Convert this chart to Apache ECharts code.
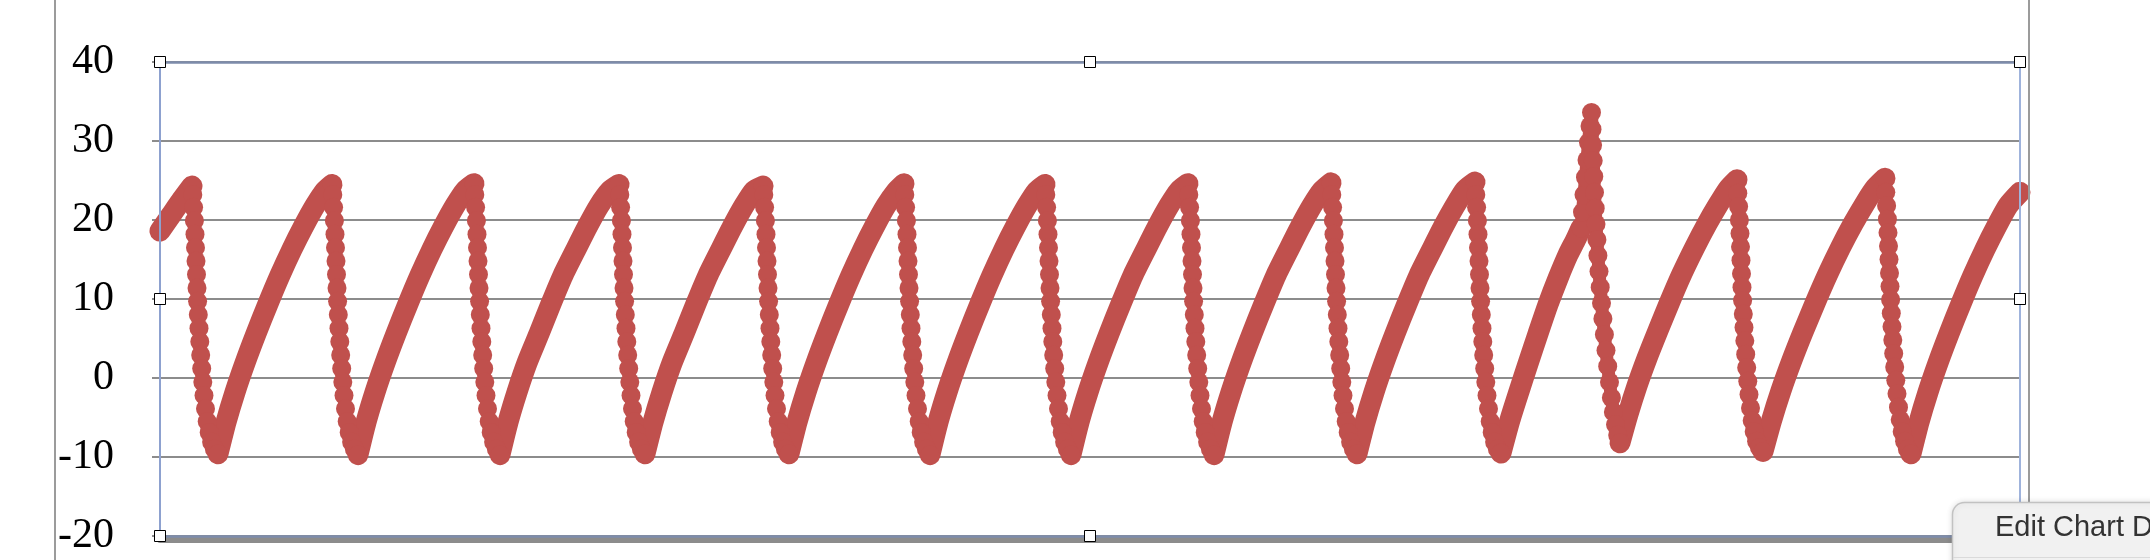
<!DOCTYPE html>
<html><head><meta charset="utf-8">
<script src="https://cdn.jsdelivr.net/npm/echarts@6/dist/echarts.min.js"></script>
<style>html,body{margin:0;padding:0;background:#fff;}#chart{width:2150px;height:560px;}</style>
</head><body><div id="chart"></div>
<script>
// ---- data: [time, value] ----
const yTickMin = -20, yTickMax = 40, yTickStep = 10;
const timeMax = 1860;

const leadIn = [[0,18.6],[11,20.6],[22,22.6]];
const beat01 = [[32,24.3],[32.8,23.2],[33.6,21.6],[34.4,19.9],[35,18.2],[35.5,16.5],[36,14.8],[36.5,13.1],[37,11.4],[37.6,9.7],[38.3,8.0],[39,6.3],[39.8,4.6],[40.7,2.9],[41.7,1.2],[42.8,-0.5],[44,-2.2],[45.5,-3.9],[47.2,-5.5],[49.2,-6.9],[51.6,-8.1],[54.4,-9.0],[58,-9.6],
  [66,-5.6],[75,-1.8],[85,1.9],[96,5.6],[108,9.4],[120,13.0],[132,16.3],[144,19.3],[155,21.8],[165,23.7]];
const beat02 = [[172,24.5],[172.8,23.2],[173.6,21.6],[174.4,19.9],[175,18.2],[175.5,16.5],[176,14.8],[176.5,13.1],[177,11.4],[177.6,9.7],[178.3,8.0],[179,6.3],[179.8,4.6],[180.7,2.9],[181.7,1.2],[182.8,-0.5],[184,-2.2],[185.5,-3.9],[187.2,-5.5],[189.2,-6.9],[191.6,-8.1],[194.4,-9.0],[198,-9.7],
  [206,-5.6],[215,-1.8],[225,1.9],[236,5.6],[248,9.4],[260,13.0],[272,16.3],[284,19.3],[295,21.8],[305,23.7]];
const beat03 = [[314,24.6],[314.8,23.2],[315.6,21.6],[316.4,19.9],[317,18.2],[317.5,16.5],[318,14.8],[318.5,13.1],[319,11.4],[319.6,9.7],[320.3,8.0],[321,6.3],[321.8,4.6],[322.7,2.9],[323.7,1.2],[324.8,-0.5],[326,-2.2],[327.5,-3.9],[329.2,-5.5],[331.2,-6.9],[333.6,-8.1],[336.4,-9.0],[340,-9.7],
  [348,-5.6],[357,-1.8],[367,1.9],[379,5.6],[391,9.4],[403,13.0],[416,16.3],[428,19.3],[439,21.8],[450,23.7]];
const beat04 = [[459,24.5],[459.8,23.2],[460.6,21.6],[461.4,19.9],[462,18.2],[462.5,16.5],[463,14.8],[463.5,13.1],[464,11.4],[464.6,9.7],[465.3,8.0],[466,6.3],[466.8,4.6],[467.7,2.9],[468.7,1.2],[469.8,-0.5],[471,-2.2],[472.5,-3.9],[474.2,-5.5],[476.2,-6.9],[478.6,-8.1],[481.4,-9.0],[485,-9.6],
  [493,-5.6],[502,-1.8],[512,1.9],[524,5.6],[536,9.4],[548,13.0],[561,16.3],[573,19.3],[584,21.8],[594,23.7]];
const beat05 = [[603,24.3],[603.8,23.2],[604.6,21.6],[605.4,19.9],[606,18.2],[606.5,16.5],[607,14.8],[607.5,13.1],[608,11.4],[608.6,9.7],[609.3,8.0],[610,6.3],[610.8,4.6],[611.7,2.9],[612.7,1.2],[613.8,-0.5],[615,-2.2],[616.5,-3.9],[618.2,-5.5],[620.2,-6.9],[622.6,-8.1],[625.4,-9.0],[629,-9.6],
  [637,-5.6],[646,-1.8],[656,1.9],[667,5.6],[679,9.4],[691,13.0],[703,16.3],[715,19.3],[726,21.8],[736,23.6]];
const beat06 = [[744,24.6],[744.8,23.2],[745.6,21.6],[746.4,19.9],[747,18.2],[747.5,16.5],[748,14.8],[748.5,13.1],[749,11.4],[749.6,9.7],[750.3,8.0],[751,6.3],[751.8,4.6],[752.7,2.9],[753.7,1.2],[754.8,-0.5],[756,-2.2],[757.5,-3.9],[759.2,-5.5],[761.2,-6.9],[763.6,-8.1],[766.4,-9.0],[770,-9.7],
  [778,-5.6],[787,-1.8],[797,1.9],[808,5.6],[820,9.4],[832,13.0],[844,16.3],[856,19.3],[867,21.8],[877,23.7]];
const beat07 = [[885,24.5],[885.8,23.2],[886.6,21.6],[887.4,19.9],[888,18.2],[888.5,16.5],[889,14.8],[889.5,13.1],[890,11.4],[890.6,9.7],[891.3,8.0],[892,6.3],[892.8,4.6],[893.7,2.9],[894.7,1.2],[895.8,-0.5],[897,-2.2],[898.5,-3.9],[900.2,-5.5],[902.2,-6.9],[904.6,-8.1],[907.4,-9.0],[911,-9.7],
  [919,-5.6],[928,-1.8],[938,1.9],[949,5.6],[961,9.4],[973,13.0],[986,16.3],[998,19.3],[1009,21.8],[1019,23.7]];
const beat08 = [[1028,24.6],[1028.8,23.2],[1029.6,21.6],[1030.4,19.9],[1031,18.2],[1031.5,16.5],[1032,14.8],[1032.5,13.1],[1033,11.4],[1033.6,9.7],[1034.3,8.0],[1035,6.3],[1035.8,4.6],[1036.7,2.9],[1037.7,1.2],[1038.8,-0.5],[1040,-2.2],[1041.5,-3.9],[1043.2,-5.5],[1045.2,-6.9],[1047.6,-8.1],[1050.4,-9.0],[1054,-9.7],
  [1062,-5.6],[1071,-1.8],[1081,1.9],[1092,5.6],[1104,9.4],[1116,13.0],[1129,16.3],[1141,19.3],[1152,21.8],[1162,23.7]];
const beat09 = [[1171,24.7],[1171.8,23.2],[1172.6,21.6],[1173.4,19.9],[1174,18.2],[1174.5,16.5],[1175,14.8],[1175.5,13.1],[1176,11.4],[1176.6,9.7],[1177.3,8.0],[1178,6.3],[1178.8,4.6],[1179.7,2.9],[1180.7,1.2],[1181.8,-0.5],[1183,-2.2],[1184.5,-3.9],[1186.2,-5.5],[1188.2,-6.9],[1190.6,-8.1],[1193.4,-9.0],[1197,-9.6],
  [1205,-5.6],[1214,-1.8],[1224,1.9],[1235,5.6],[1247,9.4],[1259,13.0],[1272,16.3],[1284,19.3],[1295,21.8],[1305,23.8]];
const beat10 = [[1315,24.8],[1315.8,23.2],[1316.6,21.6],[1317.4,19.9],[1318,18.2],[1318.5,16.5],[1319,14.8],[1319.5,13.1],[1320,11.4],[1320.6,9.7],[1321.3,8.0],[1322,6.3],[1322.8,4.6],[1323.7,2.9],[1324.7,1.2],[1325.8,-0.5],[1327,-2.2],[1328.5,-3.9],[1330.2,-5.5],[1332.2,-6.9],[1334.6,-8.1],[1337.4,-9.0],[1341,-9.5],
  [1350,-5.3],[1359,-1.7],[1368,1.8],[1378,5.6],[1388,9.3],[1398,12.6],[1408,15.6],[1416,17.6],[1421,19.0]];
const beat11 = [[1422.5,21.0],[1424,23.2],[1425.5,25.4],[1427,27.6],[1428.5,29.8],[1430,31.9],[1431.5,33.6],
  [1432,31.5],[1432.6,29.5],[1433.2,27.5],[1433.8,25.5],[1434.5,23.5],[1435.2,21.5],[1436,19.5],[1436.9,17.5],[1437.9,15.5],[1439,13.5],[1440.2,11.5],[1441.5,9.5],[1442.9,7.5],[1444.4,5.5],[1446,3.5],[1447.7,1.5],[1449.5,-0.5],[1451.4,-2.5],[1453.4,-4.3],[1455.5,-5.9],[1457.7,-7.2],[1460,-8.2],
  [1468,-4.6],[1477,-1.0],[1487,2.5],[1498,6.0],[1510,9.7],[1522,13.2],[1535,16.6],[1547,19.5],[1558,21.9],[1568,23.9]];
const beat12 = [[1577,25.1],[1577.8,23.4],[1578.6,21.7],[1579.4,20.0],[1580,18.3],[1580.5,16.6],[1581,14.9],[1581.5,13.2],[1582,11.5],[1582.6,9.8],[1583.3,8.1],[1584,6.4],[1584.8,4.7],[1585.7,3.0],[1586.7,1.3],[1587.8,-0.4],[1589,-2.1],[1590.5,-3.8],[1592.2,-5.4],[1594.2,-6.8],[1596.6,-8.0],[1599.4,-8.8],[1603,-9.3],
  [1611.5,-5.4],[1621,-1.6],[1631.5,2.1],[1643,5.8],[1655.5,9.6],[1668,13.2],[1680.5,16.5],[1693,19.5],[1705,22.1],[1715.5,24.1]];
const beat13 = [[1725,25.3],[1725.8,23.5],[1726.6,21.8],[1727.4,20.1],[1728,18.4],[1728.5,16.7],[1729,15.0],[1729.5,13.3],[1730,11.6],[1730.6,9.9],[1731.3,8.2],[1732,6.5],[1732.8,4.8],[1733.7,3.1],[1734.7,1.4],[1735.8,-0.3],[1737,-2.0],[1738.5,-3.7],[1740.2,-5.3],[1742.2,-6.8],[1744.6,-8.0],[1747.4,-9.0],[1751,-9.6],
  [1759,-5.6],[1768,-1.8],[1778,1.9],[1789,5.6],[1801,9.4],[1813,13.0],[1825,16.3],[1837,19.3],[1848,21.8],[1860,23.5]];

// ---- build ----
const RED = '#c0504d';
const GRID = {left:160, top:62, width:1860, height:474};
const samples = [].concat(leadIn, beat01, beat02, beat03, beat04, beat05, beat06, beat07, beat08, beat09, beat10, beat11, beat12, beat13);

// falling and very steep runs are drawn as beaded markers, gentle rises as a continuous thick band
const groups = [];
let cur = null;
for (let i = 0; i < samples.length - 1; i++) {
  const a = samples[i], b = samples[i + 1];
  const dv = b[1] - a[1], dt = b[0] - a[0];
  const fast = dv < 0 || dv / dt > 1;
  if (!cur || cur.fast !== fast) { cur = {fast: fast, pts: [a]}; groups.push(cur); }
  cur.pts.push(b);
}
const series = groups.map(g => ({
  type: 'line', data: g.pts, clip: false, animation: false, silent: true,
  xAxisIndex: 0, yAxisIndex: 0, z: 2,
  smooth: g.fast ? false : 0.2,
  lineStyle: {color: RED, width: g.fast ? 13 : 21, cap: 'round', join: 'round'},
  itemStyle: {color: RED, borderWidth: 0},
  symbol: g.fast ? 'circle' : 'none', symbolSize: 19,
  showSymbol: g.fast, showAllSymbol: true
}));

const hidden = {axisTick: {show: false}, axisLabel: {show: false}, splitLine: {show: false}};
const handles = [[0,0],[0.5,0],[1,0],[0,0.5],[1,0.5],[0,1],[0.5,1],[1,1]].map(([fx, fy]) => ({
  type: 'rect', z: 100,
  shape: {x: Math.round(GRID.left + fx * GRID.width) - 5.5, y: Math.round(GRID.top + fy * GRID.height) - 5.5, width: 11, height: 11},
  style: {fill: '#fff', stroke: '#000', lineWidth: 1}
}));

const chart = echarts.init(document.getElementById('chart'), null, {renderer: 'canvas'});
chart.setOption({
  animation: false,
  backgroundColor: '#fff',
  grid: {left: GRID.left, top: GRID.top, width: GRID.width, height: GRID.height, containLabel: false},
  xAxis: [
    Object.assign({type: 'value', min: 0, max: timeMax, position: 'bottom', z: 5,
      axisLine: {show: true, onZero: false, lineStyle: {color: '#7d8cab', width: 2.5}}}, hidden),
    Object.assign({type: 'value', min: 0, max: timeMax, position: 'top', z: 5,
      axisLine: {show: true, onZero: false, lineStyle: {color: '#7d8cab', width: 2.5}}}, hidden),
    Object.assign({type: 'value', min: 0, max: timeMax, position: 'bottom', offset: 4, z: 4,
      axisLine: {show: true, onZero: false, lineStyle: {color: '#8c8c8c', width: 6}}}, hidden)
  ],
  yAxis: [
    {type: 'value', min: yTickMin, max: yTickMax, interval: yTickStep, position: 'left',
      axisLine: {show: false},
      axisTick: {show: true, length: 8, lineStyle: {color: '#8c8c8c', width: 2}},
      axisLabel: {fontFamily: 'Liberation Serif', fontSize: 42, color: '#000', margin: 46},
      splitLine: {show: true, lineStyle: {color: '#8c8c8c', width: 2}}},
    Object.assign({type: 'value', min: yTickMin, max: yTickMax, position: 'left', offset: 0, z: 5,
      axisLine: {show: true, onZero: false, lineStyle: {color: '#8da1cf', width: 2}}}, hidden),
    Object.assign({type: 'value', min: yTickMin, max: yTickMax, position: 'right', offset: 0, z: 5,
      axisLine: {show: true, onZero: false, lineStyle: {color: '#9fb3dc', width: 2}}}, hidden)
  ],
  series: series,
  graphic: [
    {type: 'line', z: 50, shape: {x1: 55, y1: 0, x2: 55, y2: 560}, style: {stroke: '#9b9b9b', lineWidth: 2}},
    {type: 'line', z: 50, shape: {x1: 2029, y1: 0, x2: 2029, y2: 560}, style: {stroke: '#9b9b9b', lineWidth: 2}},
    ...handles,
    {type: 'rect', z: 200, shape: {x: 1952.5, y: 502.5, width: 260, height: 80, r: [12, 0, 0, 0]},
      style: {fill: '#f1f1f1', stroke: '#c2c2c2', lineWidth: 1.5, shadowBlur: 6, shadowColor: 'rgba(0,0,0,0.12)'}},
    {type: 'line', z: 201, shape: {x1: 1953, y1: 557.5, x2: 2150, y2: 557.5}, style: {stroke: '#dadada', lineWidth: 1}},
    {type: 'text', z: 202, x: 1995, y: 528,
      style: {text: 'Edit Chart D', fontSize: 29, fontFamily: 'Liberation Sans', fill: '#333', verticalAlign: 'middle', textVerticalAlign: 'middle'}}
  ]
});
</script>
</body></html>
